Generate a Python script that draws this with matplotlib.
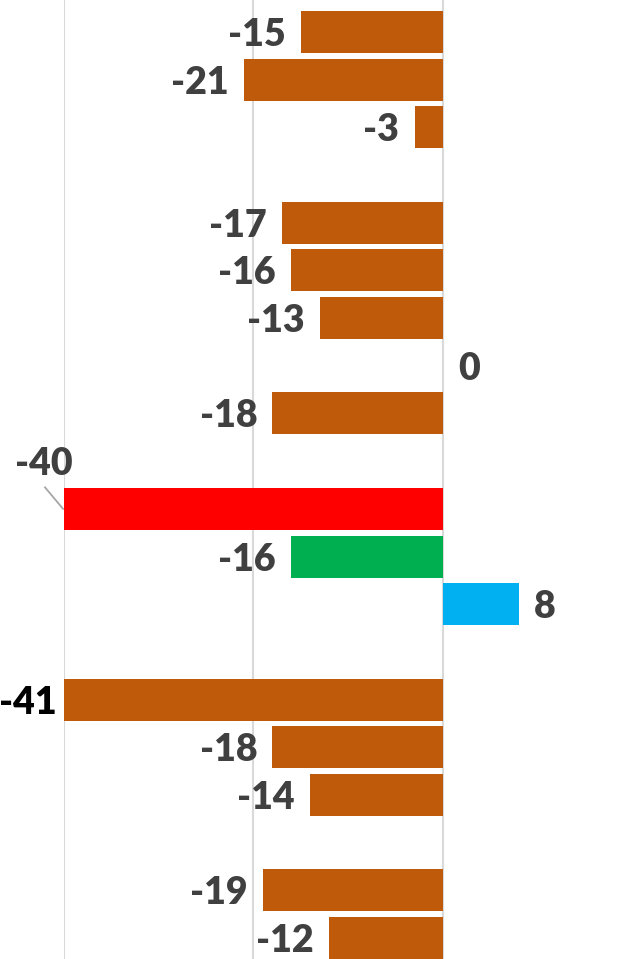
import matplotlib
matplotlib.use("Agg")
from matplotlib import pyplot as plt

# one entry per row, top to bottom; None = empty row
values = [-15, -21, -3, None, -17, -16, -13, 0, -18, None,
          -40, -16, 8, None, -41, -18, -14, None, -19, -12]
orange = '#BF5A0A'
colors = [orange, orange, orange, None, orange, orange, orange, orange, orange, None,
          '#FF0000', '#00B050', '#00B0F0', None, orange, orange, orange, None, orange, orange]

text_grey = '#404040'
plt.rcParams['font.family'] = ['Lato', 'DejaVu Sans']
FS = 27
FW = 'heavy'


def draw_chart():
    fig = plt.figure(figsize=(6.27, 9.59), dpi=100)
    ax = fig.add_axes([64 / 627, 0, 1 - 64 / 627, 1])

    rows = [i for i, v in enumerate(values) if v is not None]
    vals = [values[i] for i in rows]
    cols = [colors[i] for i in rows]
    ax.barh(rows, vals, height=0.88, color=cols, zorder=2)

    ax.set_xlim(-40, 19.42)
    ax.set_ylim(19.44, -0.671)
    for x in [-40, -20, 0]:
        ax.axvline(x, color='#D9D9D9', lw=1.5, zorder=1)
    for s in ax.spines.values():
        s.set_visible(False)
    ax.set_xticks([])
    ax.set_yticks([])

    for i, v in zip(rows, vals):
        if v == -40:
            # label sits above the bar with a leader line
            ax.text(-42.1, i - 1, '-40', ha='center', va='center_baseline',
                    fontsize=FS, fontweight=FW, color=text_grey, clip_on=False)
            ax.plot([-42.0, -40.1], [i - 0.45, i], color='#A6A6A6', lw=1.3,
                    clip_on=False, zorder=3)
        elif v < -40:
            ax.annotate(str(v), xy=(-40, i), xytext=(-5, 0), textcoords='offset points',
                        ha='right', va='center_baseline', fontsize=FS, fontweight=FW,
                        color='black', annotation_clip=False)
        elif v < 0:
            ax.annotate(str(v), xy=(v, i), xytext=(-11, 0), textcoords='offset points',
                        ha='right', va='center_baseline', fontsize=FS, fontweight=FW,
                        color=text_grey, annotation_clip=False)
        else:
            ax.annotate(str(v), xy=(v, i), xytext=(11, 0), textcoords='offset points',
                        ha='left', va='center_baseline', fontsize=FS, fontweight=FW,
                        color=text_grey, annotation_clip=False)

    fig.savefig('out.png', dpi=100)


if __name__ == "__main__":
    draw_chart()
